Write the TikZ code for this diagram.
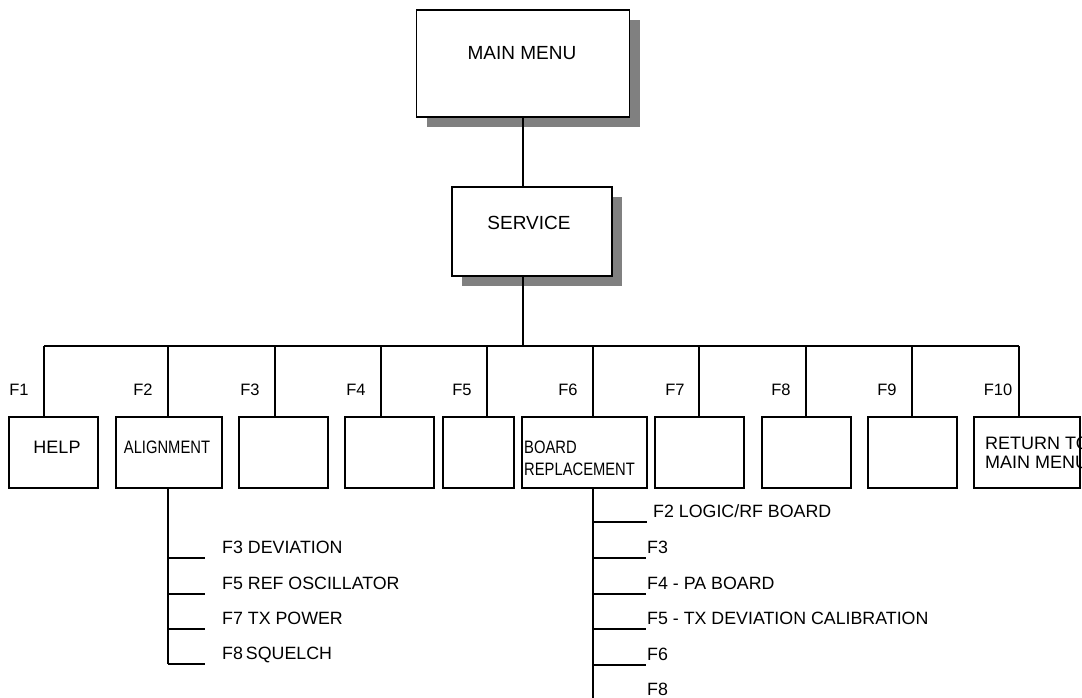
\documentclass[tikz,border=0pt]{standalone}
\usepackage{fontspec}
\setmainfont{Liberation Sans}
\usetikzlibrary{positioning, calc, shadows}
\definecolor{shadowgray}{RGB}{128,128,128}
\newcommand{\narrowtxt}[1]{\scalebox{0.82}[1]{#1}}
\tikzset{
  menubox/.style={rectangle, draw=black, fill=white, line width=1.8pt, inner sep=0pt,
    drop shadow={shadow xshift=10pt, shadow yshift=-10pt, fill=shadowgray, opacity=1}},
  keybox/.style={rectangle, draw=black, fill=white, line width=1.8pt,
    inner sep=0pt, minimum width=89pt, minimum height=71pt},
  boxtext/.style={font=\fontsize{18}{22}\selectfont, inner sep=0pt, align=left},
  fkey/.style={font=\fontsize{16.5}{19}\selectfont, inner sep=0pt},
  subitem/.style={font=\fontsize{17.8}{20}\selectfont, inner xsep=0pt,
    inner ysep=4pt, text depth=0pt, anchor=south west},
  line/.style={line width=1.6pt, color=black}
}
\begin{document}
\begin{tikzpicture}[x=1pt, y=-1pt]
  \useasboundingbox (0,0) rectangle (1082,698);

  % top levels
  \node[menubox, minimum width=213pt, minimum height=107pt] (mainmenu) at (523,63.5) {};
  \node[boxtext, font=\fontsize{19}{22}\selectfont] (mainmenutxt) at (522,53) {MAIN MENU};
  \node[menubox, minimum width=160pt, minimum height=89pt] (service) at (532,231.5) {};
  \node[boxtext, font=\fontsize{19}{22}\selectfont] (servicetxt) at (529,223) {SERVICE};

  % function key boxes
  \node[keybox] (help) at (53.5,452.5) {};
  \node[keybox, minimum width=106pt] (align) at (169,452.5) {};
  \node[keybox] (f3box) at (283.5,452.5) {};
  \node[keybox] (f4box) at (389.5,452.5) {};
  \node[keybox, minimum width=71pt] (f5box) at (478.5,452.5) {};
  \node[keybox, minimum width=125pt] (board) at (584.5,452.5) {};
  \node[keybox] (f7box) at (699.5,452.5) {};
  \node[keybox] (f8box) at (806.5,452.5) {};
  \node[keybox] (f9box) at (912.5,452.5) {};
  \node[keybox, minimum width=106pt] (f10box) at (1027,452.5) {};

  \node[boxtext] (helptxt) at (57,447) {HELP};
  \node[boxtext] (aligntxt) at (167,447) {\narrowtxt{ALIGNMENT}};
  \node[boxtext, anchor=north west] (boardtxt) at (524,440.5) {\narrowtxt{BOARD}\\\narrowtxt{REPLACEMENT}};
  \node[boxtext, font=\fontsize{18}{19}\selectfont, anchor=north west] (returntxt) at (985,436.5) {RETURN TO\\MAIN MENU};

  % bus
  \coordinate (d1) at (44,346);
  \coordinate (d2) at (168,346);
  \coordinate (d3) at (275,346);
  \coordinate (d4) at (381,346);
  \coordinate (d5) at (487,346);
  \coordinate (d6) at (593,346);
  \coordinate (d7) at (699,346);
  \coordinate (d8) at (806,346);
  \coordinate (d9) at (912,346);
  \coordinate (d10) at (1019,346);

  \draw[line] (mainmenu.south) -- (mainmenu.south |- service.north);
  \draw[line] (mainmenu.south |- service.south) -- (mainmenu.south |- d1);
  \draw[line] (d1) -- (d10);
  \draw[line] (d1) -- (d1 |- help.north);
  \draw[line] (d2) -- (d2 |- align.north);
  \draw[line] (d3) -- (d3 |- f3box.north);
  \draw[line] (d4) -- (d4 |- f4box.north);
  \draw[line] (d5) -- (d5 |- f5box.north);
  \draw[line] (d6) -- (d6 |- board.north);
  \draw[line] (d7) -- (d7 |- f7box.north);
  \draw[line] (d8) -- (d8 |- f8box.north);
  \draw[line] (d9) -- (d9 |- f9box.north);
  \draw[line] (d10) -- (d10 |- f10box.north);

  % key labels
  \node[fkey] (k1) at (19,390) {F1};
  \node[fkey] (k2) at (143,390) {F2};
  \node[fkey] (k3) at (250,390) {F3};
  \node[fkey] (k4) at (356,390) {F4};
  \node[fkey] (k5) at (462,390) {F5};
  \node[fkey] (k6) at (568,390) {F6};
  \node[fkey] (k7) at (675,390) {F7};
  \node[fkey] (k8) at (781,390) {F8};
  \node[fkey] (k9) at (887,390) {F9};
  \node[fkey] (k10) at (998,390) {F10};

  % alignment menu
  \node[subitem] (al1) at (222,558) {F3 DEVIATION};
  \node[subitem] (al2) at (222,594) {F5 REF OSCILLATOR};
  \node[subitem] (al3) at (222,629) {F7 TX POWER};
  \node[subitem] (al4) at (222,664) {F8\,SQUELCH};
  \draw[line] (d2 |- align.south) -- (d2 |- al4.south west);
  \draw[line, shorten >=17pt] (al1.south west -| d2) -- (al1.south west);
  \draw[line, shorten >=17pt] (al2.south west -| d2) -- (al2.south west);
  \draw[line, shorten >=17pt] (al3.south west -| d2) -- (al3.south west);
  \draw[line, shorten >=17pt] (al4.south west -| d2) -- (al4.south west);

  % board replacement menu
  \node[subitem] (br1) at (653,522) {F2 LOGIC/RF BOARD};
  \node[subitem] (br2) at (647,558) {F3};
  \node[subitem] (br3) at (647,594) {F4 - PA BOARD};
  \node[subitem] (br4) at (647,629) {F5 - TX DEVIATION CALIBRATION};
  \node[subitem] (br5) at (647,665) {F6};
  \node[subitem] (br6) at (647,700) {F8};
  \coordinate (brend) at (593,698);
  \draw[line] (d6 |- board.south) -- (brend);
  \draw[line, shorten >=6pt] (br1.south west -| d6) -- (br1.south west);
  \draw[line, shorten >=1pt] (br2.south west -| d6) -- (br2.south west);
  \draw[line, shorten >=1pt] (br3.south west -| d6) -- (br3.south west);
  \draw[line, shorten >=1pt] (br4.south west -| d6) -- (br4.south west);
  \draw[line, shorten >=1pt] (br5.south west -| d6) -- (br5.south west);
\end{tikzpicture}
\end{document}
